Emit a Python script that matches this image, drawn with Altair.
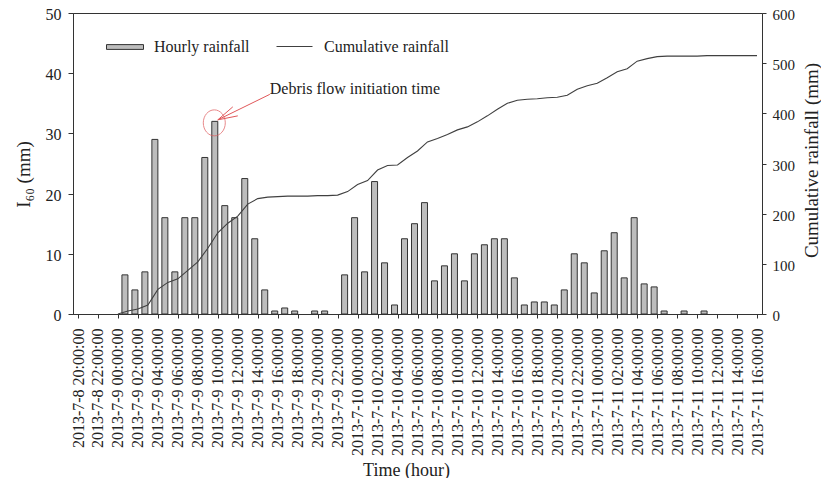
import altair as alt
import pandas as pd

# ---- data ----
tick_labels = [
    "2013-7-8 20:00:00", "2013-7-8 22:00:00",
    "2013-7-9 00:00:00", "2013-7-9 02:00:00", "2013-7-9 04:00:00", "2013-7-9 06:00:00",
    "2013-7-9 08:00:00", "2013-7-9 10:00:00", "2013-7-9 12:00:00", "2013-7-9 14:00:00",
    "2013-7-9 16:00:00", "2013-7-9 18:00:00", "2013-7-9 20:00:00", "2013-7-9 22:00:00",
    "2013-7-10 00:00:00", "2013-7-10 02:00:00", "2013-7-10 04:00:00", "2013-7-10 06:00:00",
    "2013-7-10 08:00:00", "2013-7-10 10:00:00", "2013-7-10 12:00:00", "2013-7-10 14:00:00",
    "2013-7-10 16:00:00", "2013-7-10 18:00:00", "2013-7-10 20:00:00", "2013-7-10 22:00:00",
    "2013-7-11 00:00:00", "2013-7-11 02:00:00", "2013-7-11 04:00:00", "2013-7-11 06:00:00",
    "2013-7-11 08:00:00", "2013-7-11 10:00:00", "2013-7-11 12:00:00", "2013-7-11 14:00:00",
    "2013-7-11 16:00:00",
]

# hours since 2013-7-8 20:00, one value per hour (0 .. 68)
hourly_rain = [
    0, 0, 0, 0, 0,
    6.5, 4, 7, 29, 16, 7, 16, 16, 26, 32, 18, 16, 22.5, 12.5, 4, 0.5, 1, 0.5, 0, 0.5, 0.5, 0,
    6.5, 16, 7, 22, 8.5, 1.5, 12.5, 15, 18.5, 5.5, 8, 10, 5.5, 10, 11.5, 12.5, 12.5, 6, 1.5,
    2, 2, 1.5, 4, 10, 8.5,
    3.5, 10.5, 13.5, 6, 16, 5, 4.5, 0.5, 0, 0.5, 0, 0.5, 0, 0, 0, 0, 0,
]

# cumulative rainfall line, starting at hour 4 (2013-7-9 00:00)
cum_start = 4
cumulative = [
    0, 6, 10, 18, 49, 63, 70, 87, 104, 131, 162, 181, 195, 219, 230, 233, 234, 235, 235, 235,
    236, 236, 237, 244, 258, 266, 287, 296, 297, 312, 325, 343, 350, 358, 367, 373, 383, 395,
    408, 420, 426, 428, 429, 431, 432, 436, 448, 455, 460, 471, 483, 489, 504, 509, 513, 514,
    514, 514, 514, 515, 515, 515, 515, 515, 515,
]

event_hour = 14  # 2013-7-9 10:00
event_text = "Debris flow initiation time"

bars_df = pd.DataFrame({"hour": list(range(len(hourly_rain))), "mm": hourly_rain})
line_df = pd.DataFrame({"hour": [cum_start + i for i in range(len(cumulative))], "cum": cumulative})
annot_df = pd.DataFrame({"hour": [event_hour], "mm": [hourly_rain[event_hour]], "label": [event_text]})

FONT = "Liberation Serif"
INK = "#222222"
RED = "#e0585a"

label_expr = "[" + ",".join("'%s'" % s for s in tick_labels) + "][round(datum.value / 2)]"

x_enc = alt.X(
    "hour:Q",
    scale=alt.Scale(domain=[0, 68], nice=False, zero=False),
    axis=alt.Axis(
        values=list(range(0, 69, 2)), labelExpr=label_expr, labelAngle=270,
        labelAlign="right", labelBaseline="middle", labelFontSize=16, labelPadding=10,
        labelOverlap=False, labelFlush=False, tickSize=4, grid=False,
        title="Time (hour)", titleFontSize=18, titleFontWeight="normal",
        titleX=333, titleY=161, titleAlign="center", titleBaseline="alphabetic",
    ),
)

y_left = alt.Y(
    "mm:Q",
    scale=alt.Scale(domain=[0, 50], nice=False),
    axis=alt.Axis(
        values=[0, 10, 20, 30, 40, 50], labelFontSize=16, labelPadding=7, tickSize=5,
        labelOffset=1.5, grid=False, title="I₆₀ (mm)", titleFontSize=19, titleFontWeight="normal",
        titleAngle=270, titleX=-44, titleY=161, titleAlign="center", titleBaseline="alphabetic",
    ),
)

bars = alt.Chart(bars_df).transform_filter("datum.mm > 0").transform_calculate(
    s1="'Hourly rainfall'"
).mark_bar(size=6, xOffset=-3, stroke="#333333", strokeWidth=1).encode(
    x=x_enc,
    y=y_left,
    fill=alt.Fill(
        "s1:N",
        scale=alt.Scale(domain=["Hourly rainfall"], range=["#bdbdbd"]),
        legend=alt.Legend(
            title=None, orient="none", legendX=33, legendY=15, padding=0,
            symbolType="M-1,-0.13H1V0.13H-1Z", symbolSize=1369,
            symbolStrokeColor="#333333", symbolStrokeWidth=1,
            labelFontSize=16, labelOffset=10,
        ),
    ),
)

ellipse = alt.Chart(annot_df).mark_point(
    shape="M-0.846,0A0.846,1 0 1,0 0.846,0A0.846,1 0 1,0 -0.846,0Z",
    size=676, filled=False, stroke=RED, strokeWidth=1, xOffset=-3.5, yOffset=1.5,
).encode(x=x_enc, y=y_left)

arrow = alt.Chart(annot_df).mark_rule(
    color=RED, strokeWidth=1, yOffset=-1.5, x2Offset=52, y2Offset=-27
).encode(x=x_enc, x2="hour", y=y_left, y2="mm")

barb1 = alt.Chart(annot_df).mark_rule(
    color=RED, strokeWidth=1, yOffset=-1.5, x2Offset=15, y2Offset=-14.5
).encode(x=x_enc, x2="hour", y=y_left, y2="mm")

barb2 = alt.Chart(annot_df).mark_rule(
    color=RED, strokeWidth=1, yOffset=-1.5, x2Offset=20, y2Offset=-5.5
).encode(x=x_enc, x2="hour", y=y_left, y2="mm")

note = alt.Chart(annot_df).mark_text(
    align="left", baseline="alphabetic", dx=52, dy=-27, fontSize=16, font=FONT, color=INK
).encode(x=x_enc, y=y_left, text="label:N")

line = alt.Chart(line_df).transform_calculate(s2="'Cumulative rainfall'").mark_line(
    strokeWidth=1.1
).encode(
    x=x_enc,
    y=alt.Y(
        "cum:Q",
        scale=alt.Scale(domain=[0, 600], nice=False),
        axis=alt.Axis(
            orient="right", values=[0, 100, 200, 300, 400, 500, 600], labelFontSize=15,
            labelPadding=6, tickSize=4, labelOffset=1.5, grid=False,
            title="Cumulative rainfall (mm)", titleFontSize=19, titleFontWeight="normal",
            titleAngle=270, titleX=55, titleY=147, titleAlign="center", titleBaseline="alphabetic",
        ),
    ),
    stroke=alt.Stroke(
        "s2:N",
        scale=alt.Scale(domain=["Cumulative rainfall"], range=["#404040"]),
        legend=alt.Legend(
            title=None, orient="none", legendX=203, legendY=15, padding=0,
            symbolType="stroke", symbolSize=1296, symbolStrokeWidth=1,
            labelFontSize=16, labelOffset=11,
        ),
    ),
)

left_group = alt.layer(bars, ellipse, arrow, barb1, barb2, note)

chart = alt.layer(left_group, line).resolve_scale(y="independent").properties(
    width=689,
    height=301,
    autosize=alt.AutoSizeParams(type="none"),
    padding={"left": 65, "top": 5, "right": 59, "bottom": 164},
    background="white",
).configure_view(
    stroke="#333333", strokeWidth=1
).configure_axis(
    labelFont=FONT, titleFont=FONT, labelColor=INK, titleColor=INK,
    domainColor="#333333", tickColor="#333333",
).configure_legend(
    labelFont=FONT, labelColor=INK,
)

chart.save("out.html", embed_options={"renderer": "svg", "actions": False})
